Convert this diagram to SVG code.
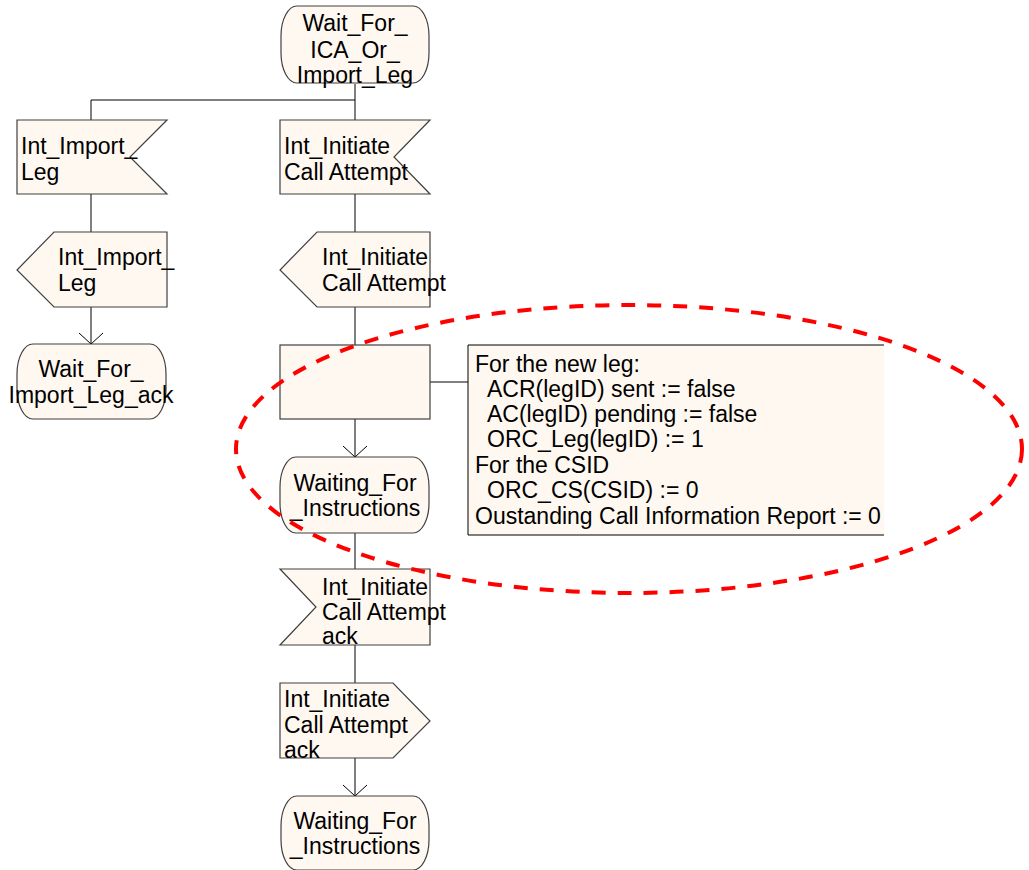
<svg xmlns="http://www.w3.org/2000/svg" width="1029" height="870" viewBox="0 0 1029 870">
  <defs>
    <style>
      .shape { fill: #fff8f0; stroke: #404040; stroke-width: 1.2; }
      .line { fill: none; stroke: #000; stroke-width: 1; }
      .arrow { fill: none; stroke: #000; stroke-width: 1; }
      text { font-family: "Liberation Sans", Arial, sans-serif; font-size: 23px; fill: #000; }
      .mid { text-anchor: middle; }
      .note { font-size: 23px; }
      .highlight { fill: none; stroke: #ff0000; stroke-width: 4; stroke-dasharray: 14 12; }
    </style>
  </defs>

  <rect x="0" y="0" width="1029" height="870" fill="#ffffff"/>

  <!-- connectors -->
  <g id="connectors">
    <path class="line" d="M355,84 V120 M91,100 H355 M91,100 V120"/>
    <path class="line" d="M355,194 V232 M91,194 V232"/>
    <path class="line" d="M91,307 V344"/>
    <path class="arrow" d="M79,333 L91,344 L103,333"/>
    <path class="line" d="M355,307 V345"/>
    <path class="line" d="M430,382 H468"/>
    <path class="line" d="M355,419 V457"/>
    <path class="arrow" d="M343,446 L355,457 L367,446"/>
    <path class="line" d="M355,533 V569"/>
    <path class="line" d="M355,645 V683"/>
    <path class="line" d="M355,758 V796"/>
    <path class="arrow" d="M343,785 L355,796 L367,785"/>
  </g>

  <!-- start state -->
  <g id="state-wait-ica">
    <rect class="shape" x="281" y="6" width="148" height="77" rx="16" ry="30"/>
    <text class="mid" x="355" y="31">Wait_For_</text>
    <text class="mid" x="355" y="58">ICA_Or_</text>
    <text class="mid" x="355" y="83">Import_Leg</text>
  </g>

  <!-- left branch -->
  <g id="input-import-leg">
    <path class="shape" d="M17,120 H167 L130,157 L167,194 H17 Z"/>
    <text x="21" y="154">Int_Import_</text>
    <text x="21" y="180">Leg</text>
  </g>
  <g id="output-import-leg">
    <path class="shape" d="M54,232 H167 V307 H54 L17,270 Z"/>
    <text x="58" y="265">Int_Import_</text>
    <text x="58" y="291">Leg</text>
  </g>
  <g id="state-wait-import-ack">
    <rect class="shape" x="17" y="344" width="149" height="75" rx="16" ry="30"/>
    <text class="mid" x="91" y="377">Wait_For_</text>
    <text class="mid" x="91" y="403">Import_Leg_ack</text>
  </g>

  <!-- right branch -->
  <g id="input-initiate">
    <path class="shape" d="M280,120 H430 L394,157 L430,194 H280 Z"/>
    <text x="284" y="154">Int_Initiate</text>
    <text x="284" y="180">Call Attempt</text>
  </g>
  <g id="output-initiate">
    <path class="shape" d="M317,232 H430 V307 H317 L280,270 Z"/>
    <text x="322" y="265">Int_Initiate</text>
    <text x="322" y="291">Call Attempt</text>
  </g>
  <g id="task-init">
    <rect class="shape" x="280" y="345" width="150" height="74"/>
  </g>
  <g id="comment-init">
    <path fill="#fff8f0" stroke="none" d="M468,345 H884 V535 H468 Z"/>
    <path class="line" stroke="#404040" d="M884,345 H468 V535 H884"/>
    <text class="note" x="475" y="372">For the new leg:</text>
    <text class="note" x="487" y="397">ACR(legID) sent := false</text>
    <text class="note" x="487" y="422">AC(legID) pending := false</text>
    <text class="note" x="487" y="447">ORC_Leg(legID) := 1</text>
    <text class="note" x="475" y="473">For the CSID</text>
    <text class="note" x="487" y="498">ORC_CS(CSID) := 0</text>
    <text class="note" x="475" y="524">Oustanding Call Information Report := 0</text>
  </g>
  <g id="state-waiting-1">
    <rect class="shape" x="280" y="457" width="149" height="76" rx="16" ry="30"/>
    <text class="mid" x="355" y="491">Waiting_For</text>
    <text class="mid" x="355" y="516">_Instructions</text>
  </g>
  <g id="input-initiate-ack">
    <path class="shape" d="M280,569 H430 V645 H280 L316,607 Z"/>
    <text x="322" y="595">Int_Initiate</text>
    <text x="322" y="620">Call Attempt</text>
    <text x="322" y="644">ack</text>
  </g>
  <g id="output-initiate-ack">
    <path class="shape" d="M280,683 H393 L430,721 L393,758 H280 Z"/>
    <text x="284" y="707">Int_Initiate</text>
    <text x="284" y="733">Call Attempt</text>
    <text x="284" y="758">ack</text>
  </g>
  <g id="state-waiting-2">
    <rect class="shape" x="281" y="796" width="148" height="74" rx="16" ry="30"/>
    <text class="mid" x="355" y="829">Waiting_For</text>
    <text class="mid" x="355" y="854">_Instructions</text>
  </g>

  <!-- dashed highlight around the initialisation step -->
  <g id="highlight">
    <ellipse class="highlight" cx="629" cy="449" rx="393" ry="144"/>
  </g>
</svg>
